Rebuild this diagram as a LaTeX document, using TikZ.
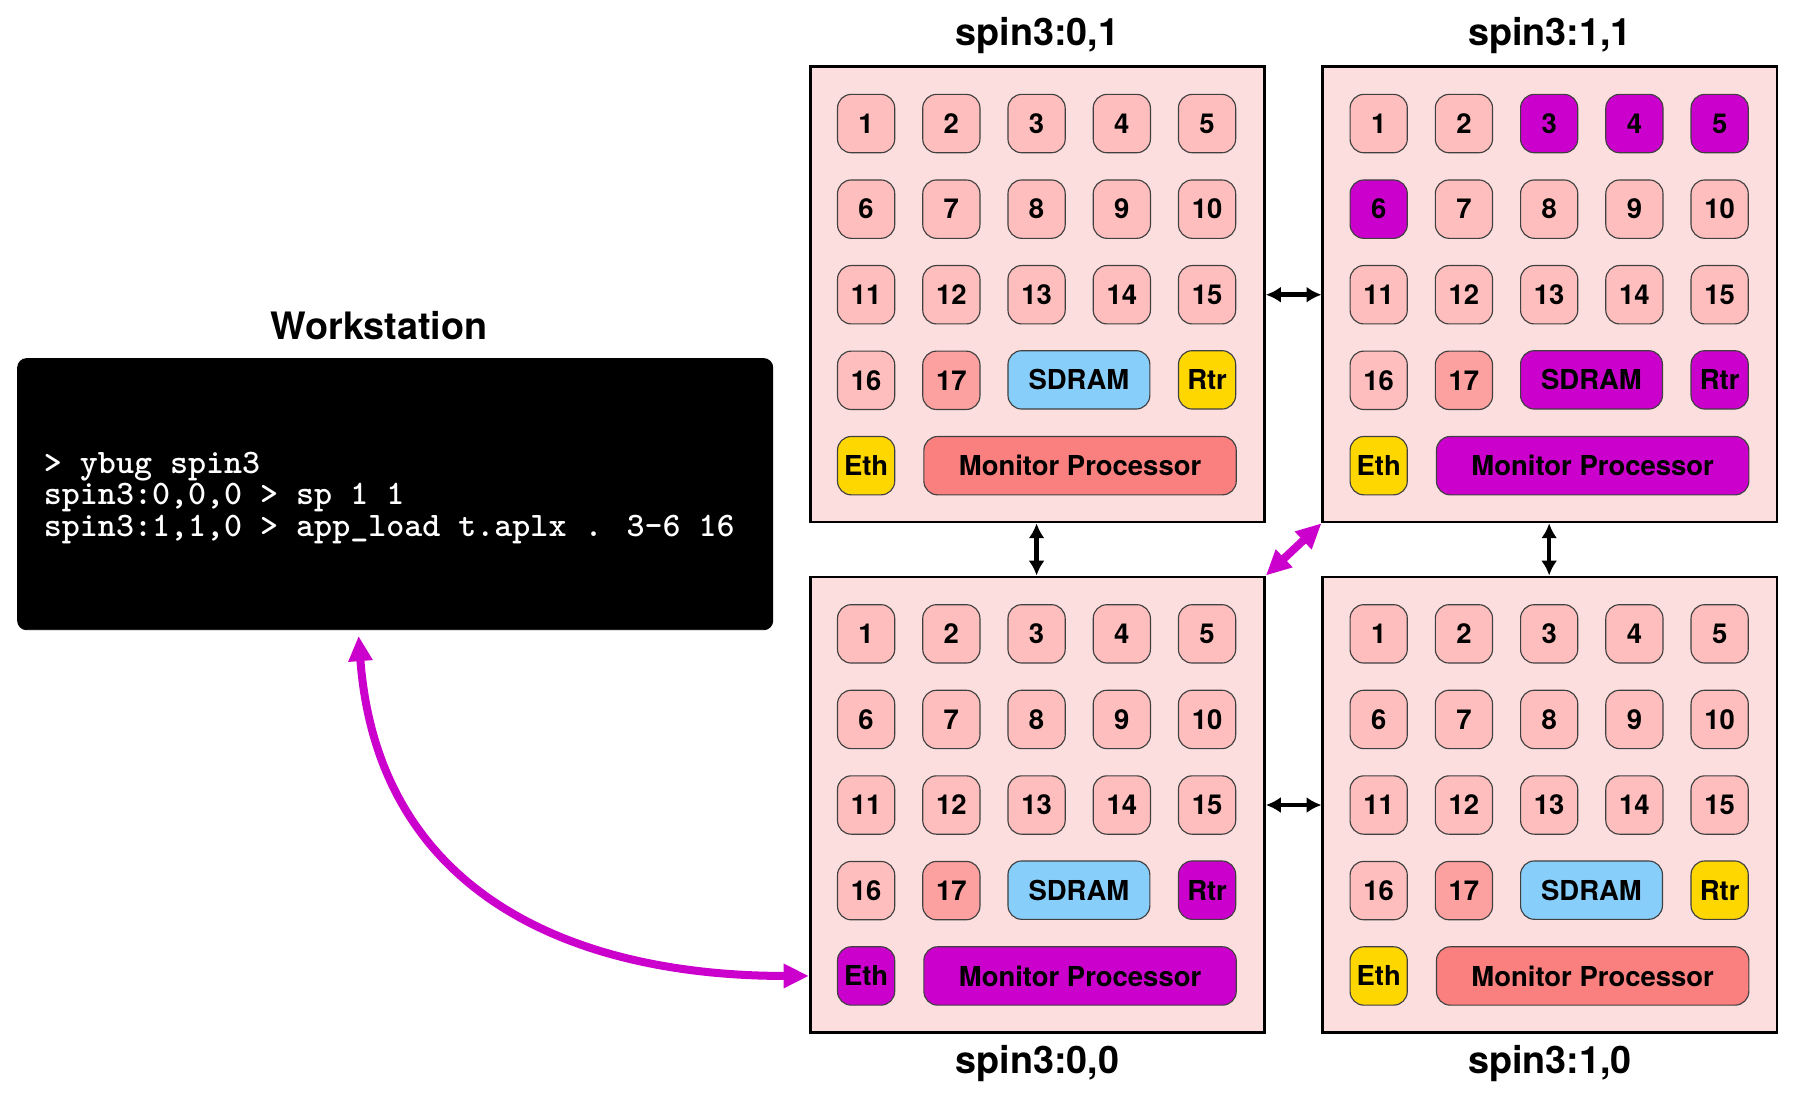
\documentclass[tikz,border=0pt]{standalone}
\usepackage{fontspec}
\setmainfont{TeX Gyre Heros}
\usepackage{tikz}
\usetikzlibrary{arrows.meta, positioning, calc}

\definecolor{boardpink}{RGB}{253,222,222}
\definecolor{chippink}{RGB}{255,190,190}
\definecolor{chipdark}{RGB}{252,160,160}
\definecolor{monred}{RGB}{250,128,128}
\definecolor{sdramblue}{RGB}{135,206,250}
\definecolor{rtryellow}{RGB}{255,215,0}
\definecolor{mag}{RGB}{204,0,204}

\begin{document}
\begin{tikzpicture}[x=0.5pt, y=-0.5pt,
        board/.style={draw=black, line width=1.2pt, fill=boardpink, minimum width=198.5pt, minimum height=199pt, inner sep=0pt, anchor=north west},
        chip/.style={draw=black!75, line width=0.5pt, rounded corners=6pt, minimum width=25pt, minimum height=25.5pt, inner sep=0pt, font=\bfseries\fontsize{12}{13}\selectfont},
        lbl/.style={font=\bfseries\fontsize{16.5}{18}\selectfont, inner sep=0pt},
        link/.style={{Latex[length=6.5pt,width=7pt]}-{Latex[length=6.5pt,width=7pt]}, line width=2pt},
        maglink/.style={{Triangle[length=11pt,width=10pt]}-{Triangle[length=11pt,width=10pt]}, draw=mag, line width=3.5pt}]

        \useasboundingbox (0,0) rectangle (1568,958);

        % workstation
        \node[draw=black, fill=black, rounded corners=4pt, minimum width=330pt, minimum height=118.5pt, anchor=north west] (ws) at (15,313) {};
        \node[anchor=west, text=white, align=left, inner sep=0pt, font=\ttfamily\bfseries\fontsize{15}{13.75}\selectfont] (cmd) at (38,435)
            {> ybug spin3\\spin3:0,0,0 > sp 1 1\\spin3:1,1,0 > app\_load t.aplx . 3-6 16};
        \node[lbl, above=8pt of ws, xshift=-7pt] (wsl) {Workstation};

        % boards
        \foreach \bn/\bx/\by/\ca/\cs/\cr/\ce/\cm in {
            01/707/57/chippink/sdramblue/rtryellow/rtryellow/monred,
            11/1155/57/mag/mag/mag/rtryellow/mag,
            00/707/503/chippink/sdramblue/mag/mag/mag,
            10/1155/503/chippink/sdramblue/rtryellow/rtryellow/monred}
        {
            \node[board] (b\bn) at (\bx,\by) {};
            \foreach \n in {1,...,17} {
                \pgfmathtruncatemacro\cl{mod(\n-1,5)}
                \pgfmathtruncatemacro\rw{div(\n-1,5)}
                \def\f{chippink}
                \ifnum\n>2 \ifnum\n<7 \def\f{\ca}\fi\fi
                \ifnum\n=17 \def\f{chipdark}\fi
                \node[chip, fill=\f] (b\bn-\n) at (\bx+50+74.5*\cl, \by+51+74.8*\rw) {\n};
            }
            \node[chip, fill=\cs, minimum width=62pt] (b\bn-sdram) at (\bx+236, \by+275) {SDRAM};
            \node[chip, fill=\cr] (b\bn-rtr) at (\bx+348, \by+275) {Rtr};
            \node[chip, fill=\ce] (b\bn-eth) at (\bx+50, \by+350) {Eth};
            \node[chip, fill=\cm, minimum width=136.5pt] (b\bn-mon) at (\bx+237, \by+350) {Monitor Processor};
        }

        \node[lbl, above=5pt of b01] (l01) {spin3:0,1};
        \node[lbl, above=5pt of b11] (l11) {spin3:1,1};
        \node[lbl, below=5pt of b00] (l00) {spin3:0,0};
        \node[lbl, below=5pt of b10] (l10) {spin3:1,0};

        % links
        \draw[link] (b01.east |- b01-15) -- (b11.west |- b01-15);
        \draw[link] (b00.east |- b00-15) -- (b10.west |- b00-15);
        \draw[link] (b01.south -| b01-3) -- (b00.north -| b01-3);
        \draw[link] (b11.south -| b11-3) -- (b10.north -| b11-3);
        \draw[maglink] (b00.north east) -- (b11.south west);
        \draw[maglink] ($(ws.south)+(-32,5)$) .. controls ($(ws.south)+(-15,230)$) and ($(b00.west |- b00-eth)+(-207,0)$) .. (b00.west |- b00-eth);
    \end{tikzpicture}
\end{document}
